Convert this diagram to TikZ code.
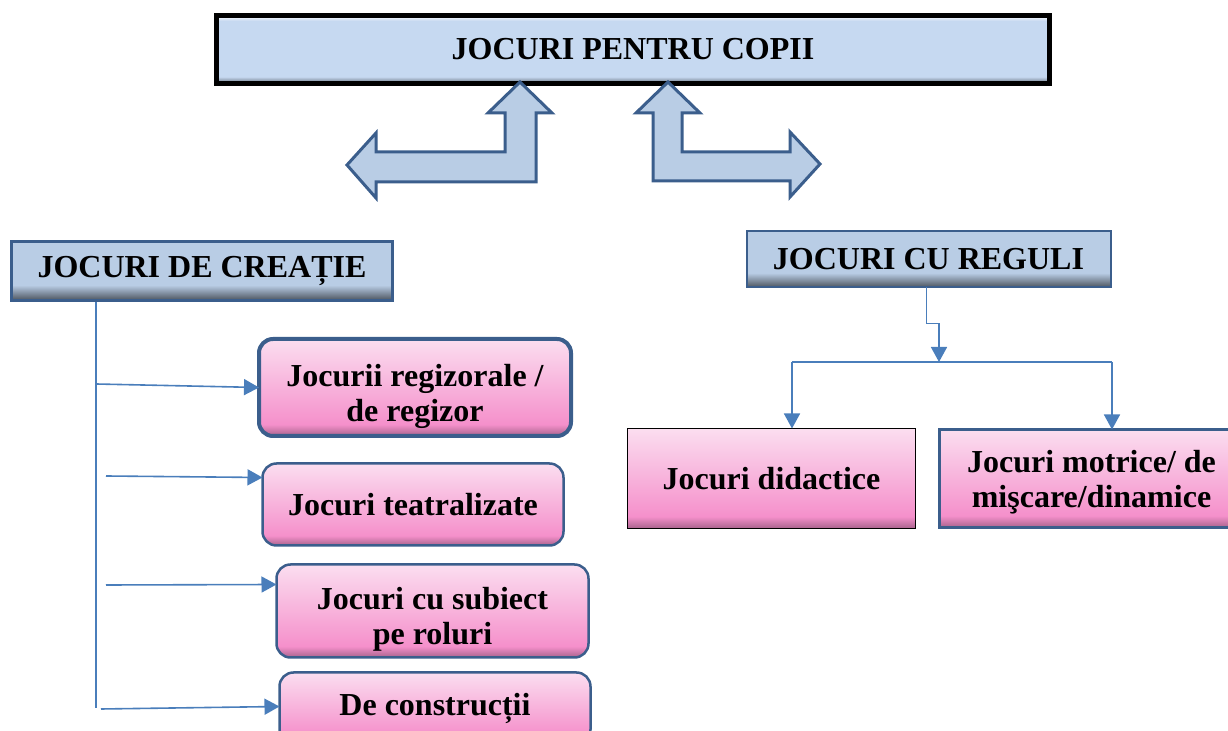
\documentclass[tikz,border=0pt]{standalone}
\usepackage{fontspec}
\setmainfont{Liberation Serif}
\usepackage{tikz}
\usetikzlibrary{arrows.meta, calc, shapes}
\definecolor{topblue}{HTML}{C6D9F1}
\definecolor{lightblue}{HTML}{B9CDE5}
\definecolor{darkblue}{HTML}{3B5E8C}
\definecolor{linkblue}{HTML}{4A7EBB}
\definecolor{pinktop}{HTML}{FBDEF0}
\definecolor{pinkbot}{HTML}{F590CB}
\definecolor{pinkdark}{HTML}{A8638C}
\pgfdeclareverticalshading{copiishade}{100bp}{color(0bp)=(topblue!50!black); color(25bp)=(topblue!50!black); color(30bp)=(topblue); color(71bp)=(topblue); color(75bp)=(white); color(100bp)=(white)}
\pgfdeclareverticalshading{headshade}{100bp}{color(0bp)=(lightblue!40!black); color(25bp)=(lightblue!40!black); color(38bp)=(lightblue); color(100bp)=(lightblue)}
\pgfdeclareverticalshading{pinkshade}{100bp}{color(0bp)=(pinkdark); color(25bp)=(pinkdark); color(31bp)=(pinkbot); color(75bp)=(pinktop); color(100bp)=(pinktop)}
\tikzstyle{txt} = [font=\fontsize{16}{17.5}\selectfont\bfseries, align=center, inner sep=0pt, outer sep=0pt]
\tikzstyle{copiibox} = [txt, draw=black, line width=2.5pt, shading=copiishade]
\tikzstyle{headbox} = [txt, draw=darkblue, line width=1.4pt, shading=headshade]
\tikzstyle{pinkbox} = [txt, draw=darkblue, line width=1.25pt, rounded corners=7pt, shading=pinkshade]
\tikzstyle{bigarrow} = [draw=darkblue, fill=lightblue, line width=1.5pt, line join=miter]
\tikzstyle{line} = [draw=linkblue, line width=0.8pt]
\tikzstyle{conn} = [line, -{Triangle[length=7.5pt, width=8pt]}]
\newcommand{\lowtxt}[1]{\rule{0pt}{#1}}

\begin{document}
\begin{tikzpicture}[x=0.5pt,y=-0.5pt]
		\clip(0,0) rectangle (1228,731);
		% main title
		\node[copiibox, minimum width=416.5pt, minimum height=34pt] (copii) at (633,49.5) {JOCURI PENTRU COPII};
		% the two bent arrows
		\draw[bigarrow] (520,82) -- (552,113) -- (536,113) -- (536,182) -- (376,182) -- (376,198) -- (347,165)
			-- (376,133) -- (376,152) -- (505,152) -- (505,113) -- (488,113) -- cycle;
		\draw[bigarrow] (668,82) -- (700,113) -- (682,113) -- (682,152) -- (790,152) -- (790,132) -- (820,164)
			-- (790,197) -- (790,181) -- (653,181) -- (653,113) -- (636,113) -- cycle;
		% left branch
		\node[headbox, minimum width=190.5pt, minimum height=29.5pt] (creatie) at (202,271) {JOCURI DE CREAȚIE};
		\node[pinkbox, line width=2pt, minimum width=156pt, minimum height=48.5pt] (regizor) at (415,387.5) {\lowtxt{20pt}Jocurii regizorale /\\de regizor};
		\node[pinkbox, minimum width=150.5pt, minimum height=41pt] (teatral) at (413,504.5) {Jocuri teatralizate};
		\node[pinkbox, minimum width=156pt, minimum height=46.5pt] (subiect) at (432.5,611) {\lowtxt{19pt}Jocuri cu subiect\\pe roluri};
		\node[pinkbox, minimum width=155.5pt, minimum height=35.5pt] (constr) at (435,708) {De construcții};
		\coordinate (trunk) at (96,302);
		\coordinate (trunkend) at (96,708);
		\coordinate (b1) at (96,384);
		\coordinate (b2) at (106,476);
		\coordinate (b3) at (106,585);
		\coordinate (b4) at (101,709);
		\draw[line] (trunk) -- (trunkend);
		\draw[conn] (b1) -- (regizor.west);
		\draw[conn] (b2) -- ($(teatral.north west)+(0,14)$);
		\draw[conn] (b3) -- ($(subiect.north west)+(0,20)$);
		\draw[conn] (b4) -- ($(constr.north west)+(0,34)$);
		% right branch
		\node[headbox, line width=1pt, minimum width=182pt, minimum height=28pt] (reguli) at (928.5,259.5) {JOCURI CU REGULI};
		\node[pinkbox, draw=black, line width=0.75pt, rounded corners=0pt, minimum width=144pt, minimum height=50pt] (didactice) at (771.5,478.5) {Jocuri didactice};
		\node[pinkbox, line width=1.5pt, rounded corners=0pt, minimum width=152pt, minimum height=49pt] (motrice) at (1091.5,478.5) {\lowtxt{15pt}Jocuri motrice/ de\\mişcare/dinamice};
		\coordinate (split) at (939,362);
		\coordinate (jl) at (792,362);
		\coordinate (jr) at (1112,362);
		\draw[conn] ([xshift=-1pt]reguli.south) -- ++(0,36) -| (split);
		\draw[line] (jl) -- (jr);
		\draw[conn] (jl) -- (jl |- didactice.north);
		\draw[conn] (jr) -- (jr |- motrice.north);
	\end{tikzpicture}
\end{document}
